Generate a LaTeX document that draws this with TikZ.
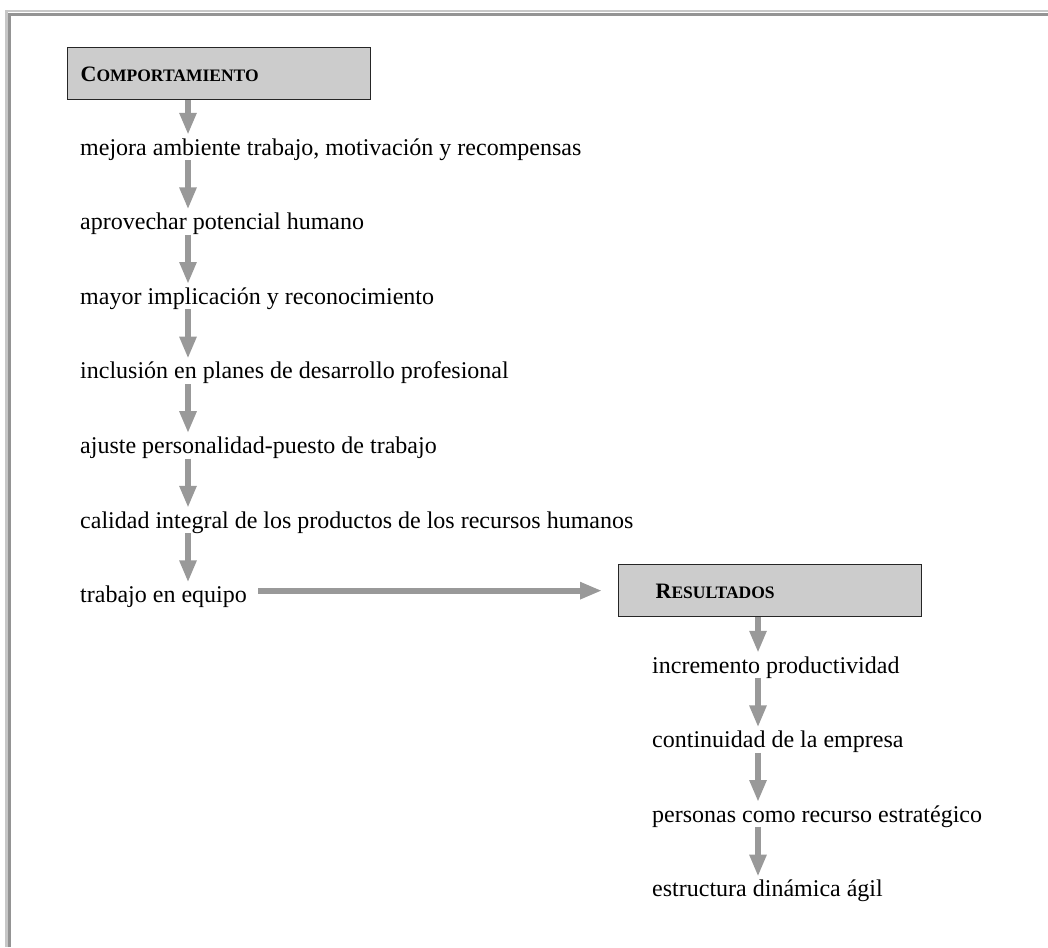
\documentclass[tikz,border=0pt]{standalone}
\usepackage{fontspec}
\setmainfont{Liberation Serif}
\usetikzlibrary{positioning, arrows.meta}

\newcommand{\versal}[2]{\textbf{{\fontsize{22}{26}\selectfont #1}{\fontsize{17.5}{20}\selectfont #2}}}

\begin{document}
\begin{tikzpicture}[x=1pt, y=-1pt,
    caja/.style={draw=black!85, line width=1.3pt, fill=black!20, anchor=north west,
      minimum width=303pt, minimum height=52pt, align=left,
      text height=16pt, text depth=0pt, inner ysep=0pt},
    texto/.style={inner sep=0pt, text height=20pt, text depth=5pt, font=\fontsize{24}{28}\selectfont},
    flecha/.style={draw=black!40, line width=6pt, -{Triangle[length=22pt, width=16pt]}}
]
\useasboundingbox (0,0) rectangle (1048,947);
% frame
\draw[black!22, line width=2.5pt] (6.5,947) -- (6.5,11) -- (1048,11);
\draw[black!42, line width=3.5pt] (9.5,947) -- (9.5,14.5) -- (1048,14.5);

  % Left column
  \node[caja, inner xsep=13pt, text width=277pt] (comp) at (67,47) {\versal{C}{OMPORTAMIENTO}};
  \node[texto, anchor=base west] (a) at (80,155) {mejora ambiente trabajo, motivación y recompensas};
  \node[texto, below right=49.2pt and 0pt of a.south west] (b) {aprovechar potencial humano};
  \node[texto, below right=49.2pt and 0pt of b.south west] (c) {mayor implicación y reconocimiento};
  \node[texto, below right=49.2pt and 0pt of c.south west] (d) {inclusión en planes de desarrollo profesional};
  \node[texto, below right=49.2pt and 0pt of d.south west] (e) {ajuste personalidad-puesto de trabajo};
  \node[texto, below right=49.2pt and 0pt of e.south west] (f) {calidad integral de los productos de los recursos humanos};
  \node[texto, below right=49.2pt and 0pt of f.south west] (g) {trabajo en equipo};
\draw[flecha] ([xshift=121pt]comp.south west) -- ([xshift=108pt]a.north west);
\draw[flecha] ([xshift=108pt]a.south west) -- ([xshift=108pt]b.north west);
\draw[flecha] ([xshift=108pt]b.south west) -- ([xshift=108pt]c.north west);
\draw[flecha] ([xshift=108pt]c.south west) -- ([xshift=108pt]d.north west);
\draw[flecha] ([xshift=108pt]d.south west) -- ([xshift=108pt]e.north west);
\draw[flecha] ([xshift=108pt]e.south west) -- ([xshift=108pt]f.north west);
\draw[flecha] ([xshift=108pt]f.south west) -- ([xshift=108pt]g.north west);

  % Right column
  \node[caja, inner xsep=37pt, text width=229pt] (res) at (618,564) {\versal{R}{ESULTADOS}};
\draw[flecha, shorten <=11pt, shorten >=16pt] (res.west -| g.east) -- (res.west);
  \node[texto, anchor=base west] (h) at (652,673) {incremento productividad};
  \node[texto, below right=49.2pt and 0pt of h.south west] (i) {continuidad de la empresa};
  \node[texto, below right=49.2pt and 0pt of i.south west] (j) {personas como recurso estratégico};
  \node[texto, below right=49.2pt and 0pt of j.south west] (k) {estructura dinámica ágil};
\draw[flecha] ([xshift=140pt]res.south west) -- ([xshift=106pt]h.north west);
\draw[flecha] ([xshift=106pt]h.south west) -- ([xshift=106pt]i.north west);
\draw[flecha] ([xshift=106pt]i.south west) -- ([xshift=106pt]j.north west);
\draw[flecha] ([xshift=106pt]j.south west) -- ([xshift=106pt]k.north west);
\end{tikzpicture}
\end{document}
